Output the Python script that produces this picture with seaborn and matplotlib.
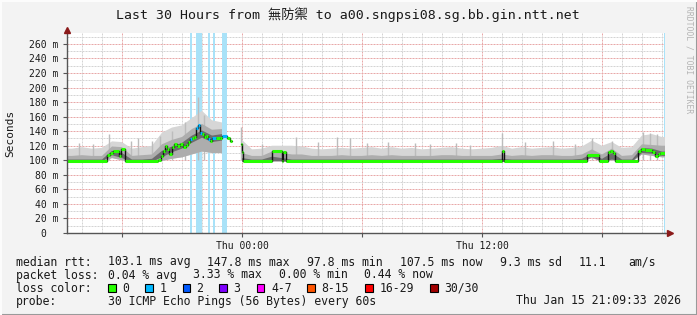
import numpy as np
import pandas as pd
import matplotlib
matplotlib.use("Agg")
import matplotlib.pyplot as plt
import seaborn as sns
from matplotlib.patches import Rectangle
from matplotlib.lines import Line2D

# ---------------- data ----------------
title = "Last 30 Hours from 無防禦 to a00.sngpsi08.sg.bb.gin.ntt.net"
x_start, x_end = -8.75, 21.15            # hours relative to Thu 00:00
x_label_hours = [0, 12]
x_label_texts = ["Thu 00:00", "Thu 12:00"]
y_ticks = [0, 20, 40, 60, 80, 100, 120, 140, 160, 180, 200, 220, 240, 260]
y_max = 275

# median rtt (ms), step series: value holds from its time until the next time
median_t = [-8.75, -6.75, -6.6, -6.45, -6.15, -6.05, -5.85, -4.2, -4.05, -3.95,
            -3.85, -3.75, -3.65, -3.5, -3.4, -3.25, -3.1, -2.95, -2.8, -2.7,
            -2.6, -2.5, -2.4, -2.3, -2.2, -2.1, -2.0, -1.9, -1.8, -1.7,
            -1.6, -1.5, -1.3, -1.1, -1.0, -0.75, -0.6, -0.5, -0.05, 0.0,
            0.05, 1.5, 2.0, 2.05, 2.2, 13.0, 13.1, 17.25, 17.85, 18.3,
            18.4, 18.55, 18.65, 19.8, 19.95, 20.15, 20.5, 20.65, 20.8, 20.9]
median_ms = [99, 107, 110, 113, 106, 115, 99, 101, 106, 113,
             120, 115, 108, 118, 123, 120, 123, 118, 121, 125,
             129, 131, 132, 145, 148, 138, 136, 132, 134, 129,
             127, 131, 131, 130, 134, 131, 127, np.nan, 122, 111,
             99, 113, 99, 111, 99, 113, 99, 107, 99, 111,
             113, 110, 99, 113, 115, 114, 112, 106, 108, 110]

# packet-loss bars (loss 1/30)
loss_start = [-2.6, -2.3, -1.7, -1.45, -1.0, 21.1]
loss_end = [-2.5, -2.0, -1.6, -1.35, -0.75, 21.15]

# smoke (distribution of the 30 pings), one value per 30-minute slot
smoke_step = 0.5
smoke_min = [97.5, 97.5, 97.5, 97.5, 103, 100, 97.5, 97.5, 97.5, 99,
             102, 104, 108, 112, 110, 110, np.nan, 98, 97.5, 97.5,
             98, 98, 97.5, 97.5, 97.5, 97.5, 97.5, 97.5, 97.5, 97.5,
             97.5, 97.5, 97.5, 97.5, 97.5, 97.5, 97.5, 97.5, 97.5, 97.5,
             97.5, 97.5, 97.5, 97.5, 97.5, 97.5, 97.5, 97.5, 97.5, 97.5,
             97.5, 98, 103, 98, 100, 97.5, 97.5, 108, 106, 104]
smoke_q40 = [98, 98, 98, 98, 107, 103, 98, 98, 98, 104,
             111, 116, 124, 131, 125, 127, np.nan, 98, 98, 98,
             99, 99, 98, 98, 98, 98, 98, 98, 98, 98,
             98, 98, 98, 98, 98, 98, 98, 98, 98, 98,
             98, 98, 98, 98, 98, 98, 98, 98, 98, 98,
             98, 98, 104, 98, 101, 98, 98, 110, 109, 106]
smoke_q60 = [101, 101, 101, 101, 113, 110, 101, 101, 102, 113,
             119, 124, 134, 141, 134, 136, np.nan, 103, 101, 101,
             105, 103, 101, 101, 101, 101, 101, 101, 101, 101,
             101, 101, 101, 101, 101, 101, 101, 101, 101, 101,
             101, 101, 101, 102, 101, 101, 101, 101, 101, 101,
             101, 102, 109, 102, 110, 101, 101, 117, 116, 112]
smoke_q75 = [106, 107, 106, 106, 119, 118, 106, 107, 108, 122,
             128, 132, 143, 150, 142, 143, np.nan, 110, 106, 106,
             112, 110, 108, 108, 106, 106, 106, 107, 106, 106,
             107, 106, 107, 106, 106, 106, 106, 107, 107, 106,
             106, 106, 106, 108, 106, 107, 106, 107, 107, 106,
             106, 108, 115, 108, 116, 106, 107, 122, 121, 120]
smoke_max = [116, 118, 116, 117, 126, 125, 116, 118, 120, 138,
             145, 148, 158, 168, 155, 152, np.nan, 128, 115, 116,
             120, 120, 120, 119, 116, 115, 116, 117, 116, 117,
             118, 116, 118, 116, 117, 115, 116, 117, 118, 116,
             115, 116, 117, 120, 116, 118, 116, 117, 118, 116,
             117, 119, 127, 120, 125, 117, 118, 134, 136, 132]
spike_t = [-8.15, -7.45, -6.65, -5.55, -5.2, -4.5, -4.1, -3.5, -2.85, -2.2,
           -1.9, -0.05, 1.0, 2.7, 3.8, 4.75, 5.4, 6.25, 7.3, 8.65,
           9.4, 10.7, 11.4, 13.0, 14.15, 15.55, 16.65, 17.5, 18.5, 20.05,
           20.4, 20.75]
spike_ms = [124, 122, 136, 127, 130, 126, 134, 140, 152, 187,
            162, 146, 122, 132, 125, 132, 130, 124, 125, 124,
            122, 124, 121, 137, 125, 127, 122, 131, 127, 139,
            138, 136]

# legend texts
rtt_title = "median rtt:"
rtt_stats = ["103.1 ms avg", "147.8 ms max", "97.8 ms min", "107.5 ms now",
             "9.3 ms sd", "11.1", "am/s"]
loss_title = "packet loss:"
loss_stats = ["0.04 % avg", "3.33 % max", "0.00 % min", "0.44 % now"]
color_title = "loss color:"
loss_names = ["0", "1", "2", "3", "4-7", "8-15", "16-29", "30/30"]
loss_colors = ["#26ff00", "#00b8ff", "#0059ff", "#7e00ff", "#ff00ff",
               "#ff5500", "#ff0000", "#a10000"]
probe_title = "probe:"
probe_text = "30 ICMP Echo Pings (56 Bytes) every 60s"
stamp_text = "Thu Jan 15 21:09:33 2026"

# ---------------- figure ----------------
W, H = 697, 315
sns.set_theme(style="white")
plt.rcParams["font.family"] = ["DejaVu Sans Mono", "Noto Sans CJK TC"]
TXT = "#1a1a1a"

fig = plt.figure(figsize=(W / 100, H / 100), dpi=100, facecolor="#f3f3f3")
ax = fig.add_axes([67 / W, (H - 233) / H, 598 / W, 200 / H])
ax.set_facecolor("white")

# loss bars
for s, e in zip(loss_start, loss_end):
    ax.axvspan(s, e, color="#a9e2f8", lw=0, zorder=1)

# smoke: slot centres, held flat to both plot edges
n = len(smoke_min)
centres = x_start + smoke_step * (np.arange(n) + 0.5)
xs = np.concatenate([[x_start], centres, [x_end]])
def ext(a):
    a = np.asarray(a, float)
    return np.concatenate([[a[0]], a, [a[-1]]])
ax.fill_between(xs, ext(smoke_min), ext(smoke_max), color="#d6d6d6", lw=0, zorder=2)
ax.vlines(spike_t, 101, spike_ms, color="#bcbcbc", lw=1.0, zorder=2)
ax.fill_between(xs, ext(smoke_min), ext(smoke_q75), color="#adadad", lw=0, zorder=3)
ax.fill_between(xs, ext(smoke_q40), ext(smoke_q60), color="#6c6c6c", lw=0, zorder=3)

# median: black step outline + loss-coloured horizontal bars
med = pd.DataFrame({"t": median_t, "ms": median_ms})
med["t_end"] = med["t"].shift(-1).fillna(x_end)
med["run"] = med["ms"].isna().cumsum()
seg = med.dropna(subset=["ms"]).copy()
verts = []
for run, g in seg.groupby("run"):
    k = 0
    for _, r in g.iterrows():
        verts.append((run, k, r.t, r.ms)); k += 1
        verts.append((run, k, r.t_end, r.ms)); k += 1
vdf = pd.DataFrame(verts, columns=["run", "k", "t", "ms"])
sns.lineplot(data=vdf, x="t", y="ms", units="run", estimator=None, sort=False,
             color="#111111", lw=1.0, ax=ax, zorder=4)

def loss_level(t0, t1):
    mid = (t0 + t1) / 2
    return 1 if any(s <= mid <= e for s, e in zip(loss_start, loss_end)) else 0
seg["col"] = [loss_colors[loss_level(a, b)] for a, b in zip(seg.t, seg.t_end)]
ax.hlines(seg.ms, seg.t, seg.t_end, colors=seg.col, lw=2.2, zorder=5)

# axes, ticks, grid
ax.set_xlim(x_start, x_end)
ax.set_ylim(0, y_max)
ax.set_xlabel(""); ax.set_ylabel("")
ax.set_yticks(y_ticks)
ax.set_yticklabels([f"{v} m" if v else "0  " for v in y_ticks])
ax.set_yticks(np.arange(10, y_max, 20), minor=True)
six = [-6, 0, 6, 12, 18]
ax.set_xticks(six)
ax.set_xticklabels([x_label_texts[x_label_hours.index(h)] if h in x_label_hours else "" for h in six])
ax.set_xticks(np.arange(-8, 22, 1), minor=True)
ax.tick_params(axis="both", which="major", length=3, width=0.8, color="#555555",
               pad=3, labelsize=7, labelcolor=TXT, left=True, bottom=True)
ax.tick_params(axis="both", which="minor", length=0)
ax.grid(which="minor", color="#d4d4d4", lw=0.72, ls=(0, (2, 1)))
ax.grid(which="major", color="#e8a8a8", lw=0.72, ls=(0, (2, 1)))
ax.set_axisbelow(True)
for sp in ["top", "right"]:
    ax.spines[sp].set_visible(False)
for sp in ["left", "bottom"]:
    ax.spines[sp].set_color("#555555")
    ax.spines[sp].set_linewidth(1.0)
    ax.spines[sp].set_zorder(6)

# axis arrows
ax.plot([1.0, 1.009], [0, 0], transform=ax.transAxes, clip_on=False, color="#555555", lw=1.0, zorder=6)
ax.plot([1.009], [0], transform=ax.transAxes, clip_on=False, marker=">", ms=4.5,
        color="#8b1a1a", mec="#8b1a1a", zorder=7)
ax.plot([0, 0], [1.0, 1.015], transform=ax.transAxes, clip_on=False, color="#555555", lw=1.0, zorder=6)
ax.plot([0], [1.015], transform=ax.transAxes, clip_on=False, marker="^", ms=4.5,
        color="#8b1a1a", mec="#8b1a1a", zorder=7)

# texts
LEG = 8.3
def ftxt(x, y, s, **kw):
    kw.setdefault("fontsize", LEG)
    kw.setdefault("color", TXT)
    kw.setdefault("va", "center")
    return fig.text(x / W, 1 - y / H, s, **kw)

ftxt(348, 15, title, ha="center", fontsize=9.5)
ftxt(10, 133, "Seconds", rotation=90, ha="center", fontsize=8)
ftxt(689, 60, "RRDTOOL / TOBI OETIKER", rotation=270, ha="center", fontsize=5.8, color="#b4b4b4")

rows_y = [262, 275, 288, 301]
ftxt(16, rows_y[0], rtt_title)
for x, s in zip([107.6, 207.2, 306.8, 400, 500, 579, 628], rtt_stats):
    ftxt(x, rows_y[0], s)
ftxt(16, rows_y[1], loss_title)
for x, s in zip([107.6, 193.3, 279, 364.4], loss_stats):
    ftxt(x, rows_y[1], s)
ftxt(16, rows_y[2], color_title)
for xs_, xl, name, c in zip([108.3, 145, 182.5, 219.2, 256.6, 307.2, 365.3, 430.2],
                            [122, 159.5, 196.5, 233.5, 271, 321.5, 380, 444.4],
                            loss_names, loss_colors):
    fig.patches.append(Rectangle((xs_ / W, 1 - (rows_y[2] + 4) / H), 7.5 / W, 8 / H,
                                 transform=fig.transFigure, facecolor=c,
                                 edgecolor="black", lw=0.8))
    ftxt(xl, rows_y[2], name)
ftxt(16, rows_y[3], probe_title)
ftxt(107.6, rows_y[3], probe_text)
ftxt(681, rows_y[3], stamp_text, ha="right")

# frame
fig.add_artist(Line2D([0, 1], [0.5 / H, 0.5 / H], transform=fig.transFigure, color="#9a9a9a", lw=1.5))
fig.add_artist(Line2D([1 - 0.5 / W, 1 - 0.5 / W], [0, 1], transform=fig.transFigure, color="#9a9a9a", lw=1.5))
fig.add_artist(Line2D([0, 1], [1 - 0.5 / H, 1 - 0.5 / H], transform=fig.transFigure, color="#fcfcfc", lw=1.5))
fig.add_artist(Line2D([0.5 / W, 0.5 / W], [0, 1], transform=fig.transFigure, color="#fcfcfc", lw=1.5))

fig.savefig("out.png", dpi=100, facecolor=fig.get_facecolor())
